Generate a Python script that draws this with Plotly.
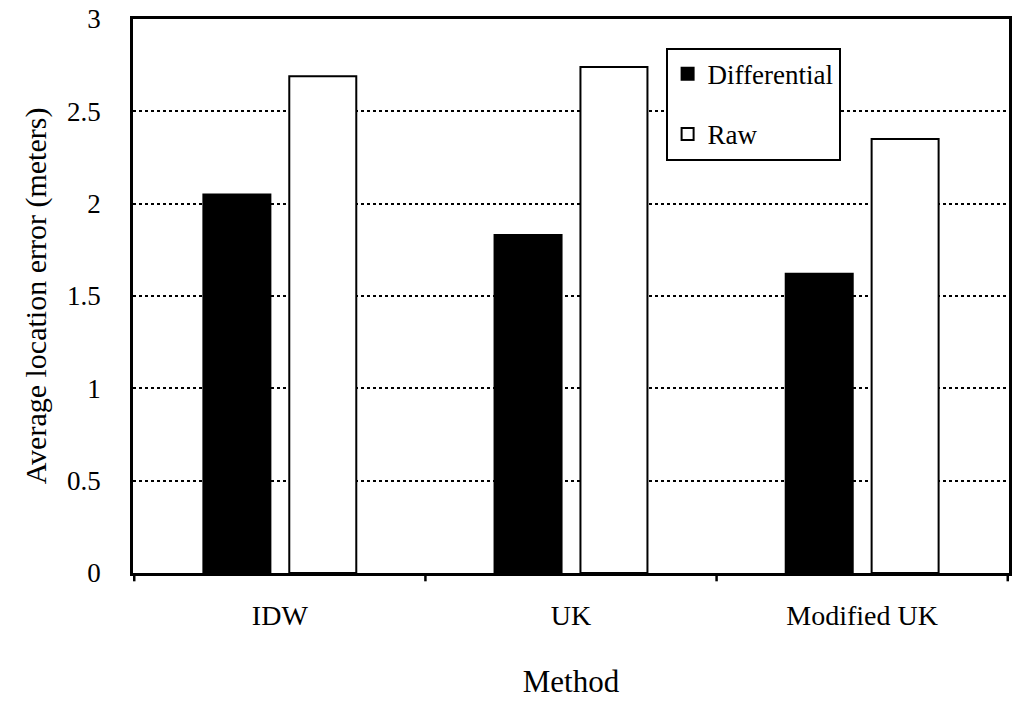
import plotly.graph_objects as go

methods = ["IDW", "UK", "Modified UK"]
differential = [2.05, 1.83, 1.62]
raw = [2.69, 2.74, 2.35]

font = "Liberation Serif"

fig = go.Figure()
fig.add_trace(go.Bar(name="Differential", x=methods, y=differential, legendgroup="d",
                     marker=dict(color="black", line=dict(color="black", width=2))))
fig.add_trace(go.Bar(name="Raw", x=methods, y=raw, legendgroup="r",
                     marker=dict(color="white", line=dict(color="black", width=2))))

fig.update_layout(
    width=1024, height=701,
    margin=dict(l=133, r=15, t=19, b=128, autoexpand=False),
    paper_bgcolor="white", plot_bgcolor="white",
    barmode="group", bargap=0.41, bargroupgap=0.22,
    font=dict(family=font, size=28, color="black"),
    legend=dict(x=0.608, y=0.948, xanchor="left", yanchor="top",
                bordercolor="black", borderwidth=2, bgcolor="white",
                font=dict(size=27), traceorder="grouped", tracegroupgap=22,
                itemwidth=30),
    showlegend=True,
)
fig.update_xaxes(
    showline=True, linecolor="black", linewidth=2.5, mirror=True,
    ticks="", showgrid=False, ticklabelstandoff=16,
    title=dict(text="Method", font=dict(size=31), standoff=40),
    tickfont=dict(size=28),
)
fig.update_yaxes(
    range=[0, 3], dtick=0.5,
    showline=True, linecolor="black", linewidth=2.5, mirror=True,
    showgrid=True, gridcolor="black", griddash="dot", gridwidth=2,
    ticks="", zeroline=False, ticklabelstandoff=24, ticklabeloverflow="allow",
    title=dict(text="Average location error (meters)", font=dict(size=30), standoff=12),
    tickfont=dict(size=27),
)
# category boundary tick marks on the x-axis
for pos in [-0.5, 0.5, 1.5, 2.5]:
    fig.add_shape(type="line", xref="x", yref="paper", x0=pos, x1=pos,
                  y0=0, y1=-0.015, line=dict(color="black", width=2.5))

fig.write_html("out.html", config={"displayModeBar": False},
               post_script="document.body.style.margin='0';")
